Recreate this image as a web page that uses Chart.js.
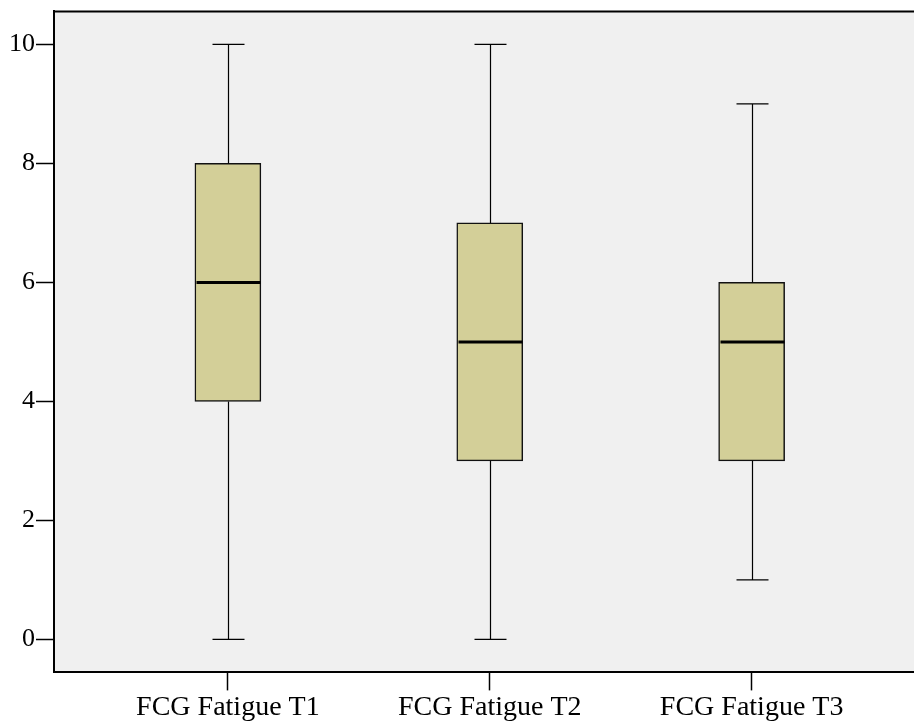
<!DOCTYPE html>
<html>
<head>
<meta charset="utf-8">
<script src="https://cdn.jsdelivr.net/npm/chart.js@4.4.1/dist/chart.umd.min.js"></script>
<style>
  html, body { margin: 0; padding: 0; background: #fff; overflow: hidden; }
  #wrap { width: 914px; height: 724px; }
</style>
</head>
<body>
<div id="wrap"><canvas id="box-chart"></canvas></div>
<script>
// box plot values
const categories = ['FCG Fatigue T1', 'FCG Fatigue T2', 'FCG Fatigue T3'];
const mins    = [0, 0, 1];
const q1s     = [4, 3, 3];
const medians = [6, 5, 5];
const q3s     = [8, 7, 6];
const maxs    = [10, 10, 9];
const yTicks  = [0, 2, 4, 6, 8, 10];

const boxes = categories.map((c, i) => ({ x: i + 1, y: [q1s[i], q3s[i]] }));

// plot background + top border
const plotBg = {
  id: 'plotBg',
  beforeDraw(chart) {
    const { ctx, chartArea: a } = chart;
    ctx.save();
    ctx.fillStyle = '#f0f0f0';
    ctx.fillRect(a.left, a.top, a.right - a.left, a.bottom - a.top);
    ctx.restore();
  },
  afterDraw(chart) {
    const { ctx, chartArea: a } = chart;
    ctx.save();
    ctx.strokeStyle = '#000';
    ctx.lineWidth = 2;
    ctx.beginPath();
    ctx.moveTo(a.left, a.top);
    ctx.lineTo(a.right, a.top);
    ctx.stroke();
    ctx.restore();
  }
};

// whiskers + median lines
const whiskers = {
  id: 'whiskers',
  afterDatasetsDraw(chart) {
    const { ctx, scales: { x, y } } = chart;
    ctx.save();
    ctx.strokeStyle = '#000';
    categories.forEach((c, i) => {
      const cx = Math.round(x.getPixelForValue(i + 1)) + 0.5;
      const cap = 16;
      ctx.lineWidth = 1.2;
      ctx.beginPath();
      ctx.moveTo(cx, y.getPixelForValue(q3s[i]));
      ctx.lineTo(cx, y.getPixelForValue(maxs[i]));
      ctx.moveTo(cx, y.getPixelForValue(q1s[i]));
      ctx.lineTo(cx, y.getPixelForValue(mins[i]));
      ctx.moveTo(cx - cap, y.getPixelForValue(maxs[i]));
      ctx.lineTo(cx + cap, y.getPixelForValue(maxs[i]));
      ctx.moveTo(cx - cap, y.getPixelForValue(mins[i]));
      ctx.lineTo(cx + cap, y.getPixelForValue(mins[i]));
      ctx.stroke();
      // median
      ctx.lineWidth = 3;
      ctx.beginPath();
      ctx.moveTo(cx - 32, y.getPixelForValue(medians[i]));
      ctx.lineTo(cx + 32, y.getPixelForValue(medians[i]));
      ctx.stroke();
    });
    ctx.restore();
  }
};

new Chart(document.getElementById('box-chart'), {
  type: 'bar',
  data: {
    datasets: [{
      data: boxes,
      backgroundColor: '#d3cf98',
      borderColor: '#111',
      borderWidth: 1.5,
      borderSkipped: false,
      barThickness: 66
    }]
  },
  options: {
    responsive: true,
    maintainAspectRatio: false,
    animation: false,
    layout: { padding: { left: 8, top: 11, right: 0, bottom: 0 } },
    plugins: { legend: { display: false }, tooltip: { enabled: false } },
    scales: {
      x: {
        type: 'linear',
        offset: false,
        min: 0.336,
        max: 3.62,
        afterBuildTicks(axis) { axis.ticks = categories.map((c, i) => ({ value: i + 1 })); },
        ticks: {
          callback: (v) => categories[v - 1],
          color: '#000',
          font: { family: 'Liberation Serif', size: 28 },
          padding: 0,
          maxRotation: 0,
          autoSkip: false
        },
        grid: { offset: false, drawOnChartArea: false, tickLength: 18, tickColor: '#000', tickWidth: 1.5 },
        border: { display: true, color: '#000', width: 2 }
      },
      y: {
        min: -0.556,
        max: 10.556,
        afterBuildTicks(axis) { axis.ticks = yTicks.map(v => ({ value: v })); },
        ticks: {
          color: '#000',
          font: { family: 'Liberation Serif', size: 26, lineHeight: 0.8 },
          padding: 1
        },
        grid: { drawOnChartArea: false, tickLength: 18, tickColor: '#000', tickWidth: 1.5 },
        border: { display: true, color: '#000', width: 2 }
      }
    }
  },
  plugins: [plotBg, whiskers]
});
</script>
</body>
</html>
